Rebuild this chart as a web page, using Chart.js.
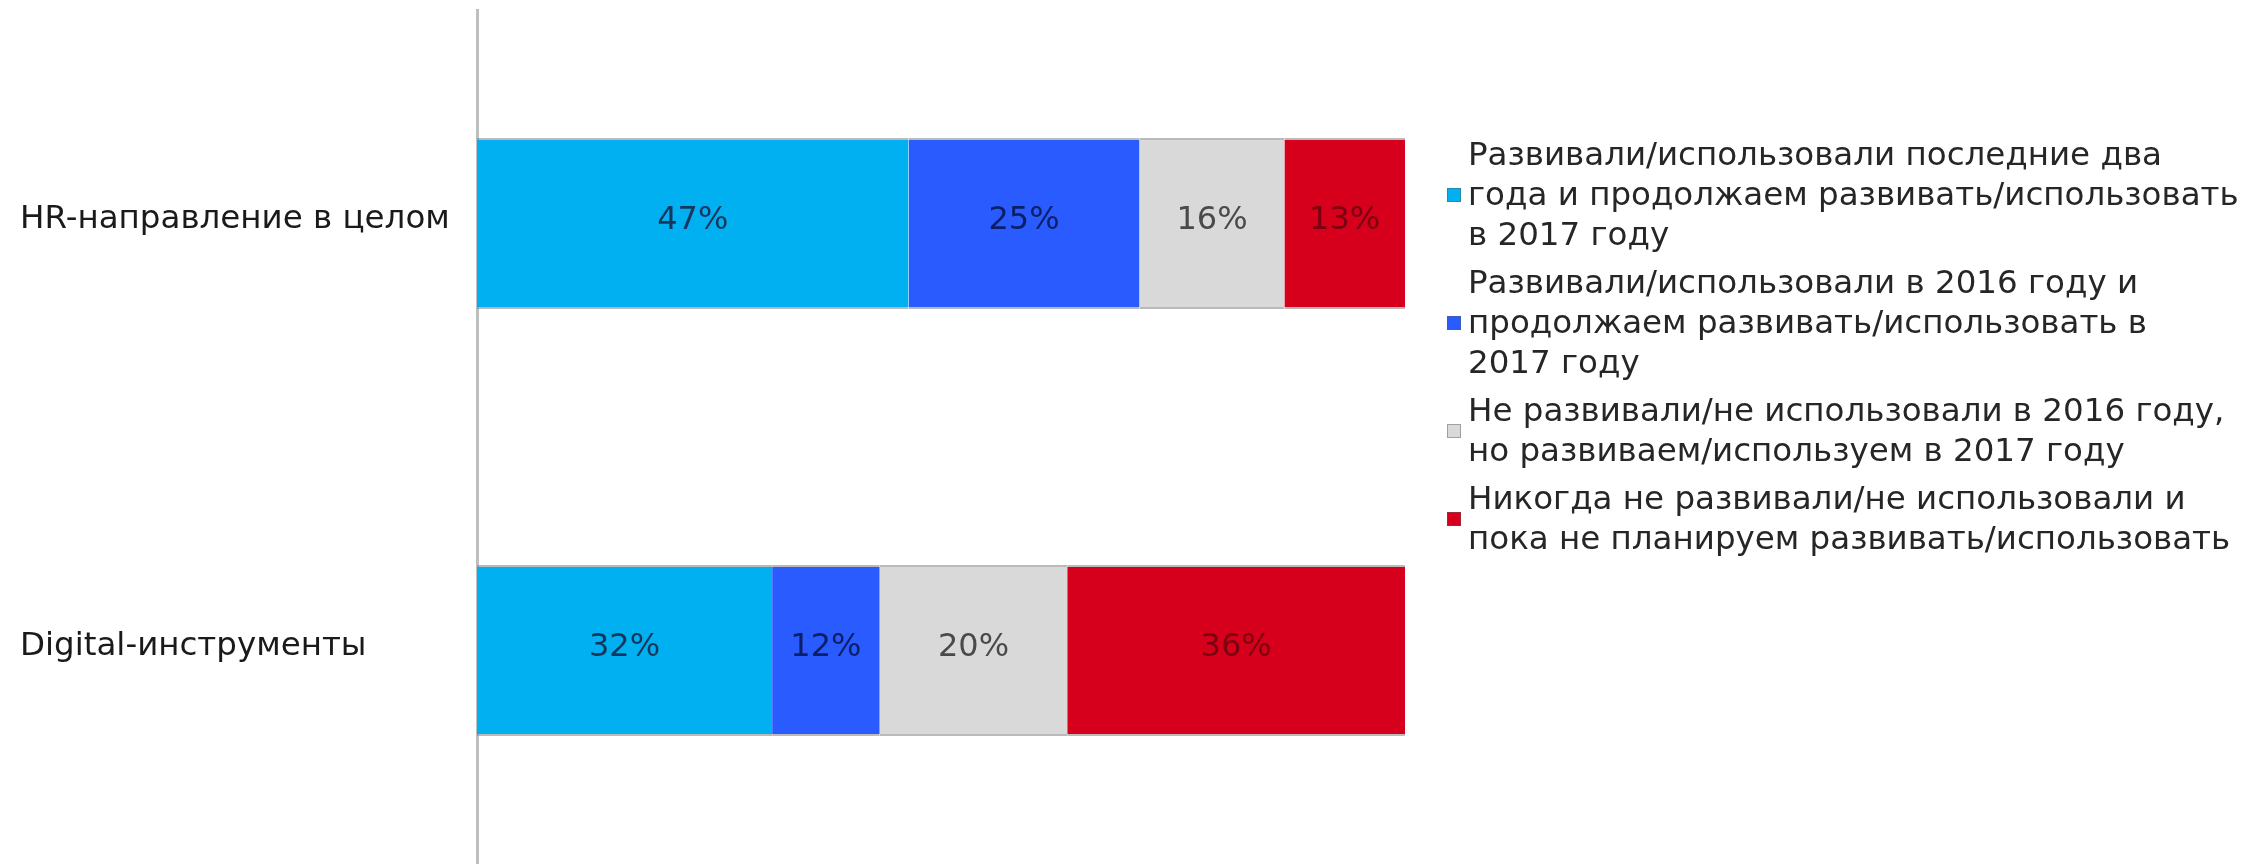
<!DOCTYPE html>
<html>
<head>
<meta charset="utf-8">
<script src="https://cdn.jsdelivr.net/npm/chart.js@4.4.1/dist/chart.umd.min.js"></script>
<style>
html,body{margin:0;padding:0;background:#fff;}
#wrap{width:2244px;height:864px;position:relative;}
</style>
</head>
<body>
<div id="wrap"><canvas id="c"></canvas></div>
<script>
// ---- data ----
const categories = ['HR-направление в целом', 'Digital-инструменты'];
const seriesNames = [
  ['Развивали/использовали последние два', 'года и продолжаем развивать/использовать', 'в 2017 году'],
  ['Развивали/использовали в 2016 году и', 'продолжаем развивать/использовать в', '2017 году'],
  ['Не развивали/не использовали в 2016 году,', 'но развиваем/используем в 2017 году'],
  ['Никогда не развивали/не использовали и', 'пока не планируем развивать/использовать']
];
const series1 = [46.5, 31.8];
const series2 = [24.9, 11.6];
const series3 = [15.6, 20.2];
const series4 = [13.0, 36.4];
const seriesValues = [series1, series2, series3, series4];

// ---- styles ----
const seriesColors = ['#00B0F0', '#2A5BFF', '#D9D9D9', '#D6001C'];
const labelColors = ['#17365D', '#0B1F66', '#4A4A4A', '#7A0010'];
const FONT = '"DejaVu Sans", sans-serif';

const valueLabels = {
  id: 'valueLabels',
  afterDatasetsDraw(chart) {
    const ctx = chart.ctx;
    ctx.save();
    ctx.font = '32px ' + FONT;
    ctx.textAlign = 'center';
    ctx.textBaseline = 'middle';
    chart.data.datasets.forEach((ds, i) => {
      const meta = chart.getDatasetMeta(i);
      meta.data.forEach((bar, j) => {
        const p = bar.getCenterPoint();
        ctx.fillStyle = labelColors[i];
        ctx.fillText(Math.round(ds.data[j]) + '%', p.x, p.y - 3);
      });
    });
    ctx.restore();
  }
};

const categoryLabels = {
  id: 'categoryLabels',
  afterDraw(chart) {
    const ctx = chart.ctx;
    const yScale = chart.scales.y;
    ctx.save();
    ctx.font = '32.5px ' + FONT;
    ctx.textAlign = 'left';
    ctx.textBaseline = 'middle';
    ctx.fillStyle = '#1a1a1a';
    chart.data.labels.forEach((lab, i) => {
      ctx.fillText(lab, yScale.left, yScale.getPixelForValue(i) - 4);
    });
    ctx.restore();
  }
};

const sideLegend = {
  id: 'sideLegend',
  afterDraw(chart) {
    const ctx = chart.ctx;
    ctx.save();
    ctx.font = '32.5px ' + FONT;
    ctx.textAlign = 'left';
    ctx.textBaseline = 'alphabetic';
    const textX = 1468, boxX = 1447, box = 14, pitch = 40, itemGap = 8;
    let baseline = 165;
    chart.data.datasets.forEach((ds, i) => {
      const lines = seriesNames[i];
      const first = baseline;
      lines.forEach(line => {
        ctx.fillStyle = '#262626';
        ctx.fillText(line, textX, baseline);
        baseline += pitch;
      });
      const last = baseline - pitch;
      baseline += itemGap;
      const cy = (first + last) / 2 - 10;
      ctx.fillStyle = seriesColors[i];
      ctx.fillRect(boxX, cy - box / 2, box, box);
      ctx.strokeStyle = 'rgba(90,90,90,0.45)';
      ctx.lineWidth = 1;
      ctx.strokeRect(boxX + 0.5, cy - box / 2 + 0.5, box - 1, box - 1);
    });
    ctx.restore();
  }
};

new Chart(document.getElementById('c'), {
  type: 'bar',
  data: {
    labels: categories,
    datasets: seriesValues.map((vals, i) => ({
      label: seriesNames[i].join(' '),
      data: vals,
      backgroundColor: seriesColors[i],
      borderColor: 'rgba(130,130,130,0.55)',
      borderWidth: {top: 2, bottom: 2, left: 0, right: 0},
      borderSkipped: false,
      categoryPercentage: 1,
      barPercentage: 0.40
    }))
  },
  options: {
    indexAxis: 'y',
    responsive: true,
    maintainAspectRatio: false,
    animation: false,
    layout: {padding: {left: 20, right: 839, top: 10, bottom: -3}},
    plugins: {
      legend: {display: false},
      tooltip: {enabled: false}
    },
    scales: {
      x: {
        stacked: true,
        min: 0,
        max: 100,
        display: false
      },
      y: {
        stacked: true,
        grid: {display: false},
        border: {display: true, color: '#BFBFBF', width: 3},
        ticks: {display: false},
        afterFit(scale) {
          scale.width = 457;
          scale.paddingTop = 0;
          scale.paddingBottom = 0;
        }
      }
    }
  },
  plugins: [valueLabels, categoryLabels, sideLegend]
});
</script>
</body>
</html>
